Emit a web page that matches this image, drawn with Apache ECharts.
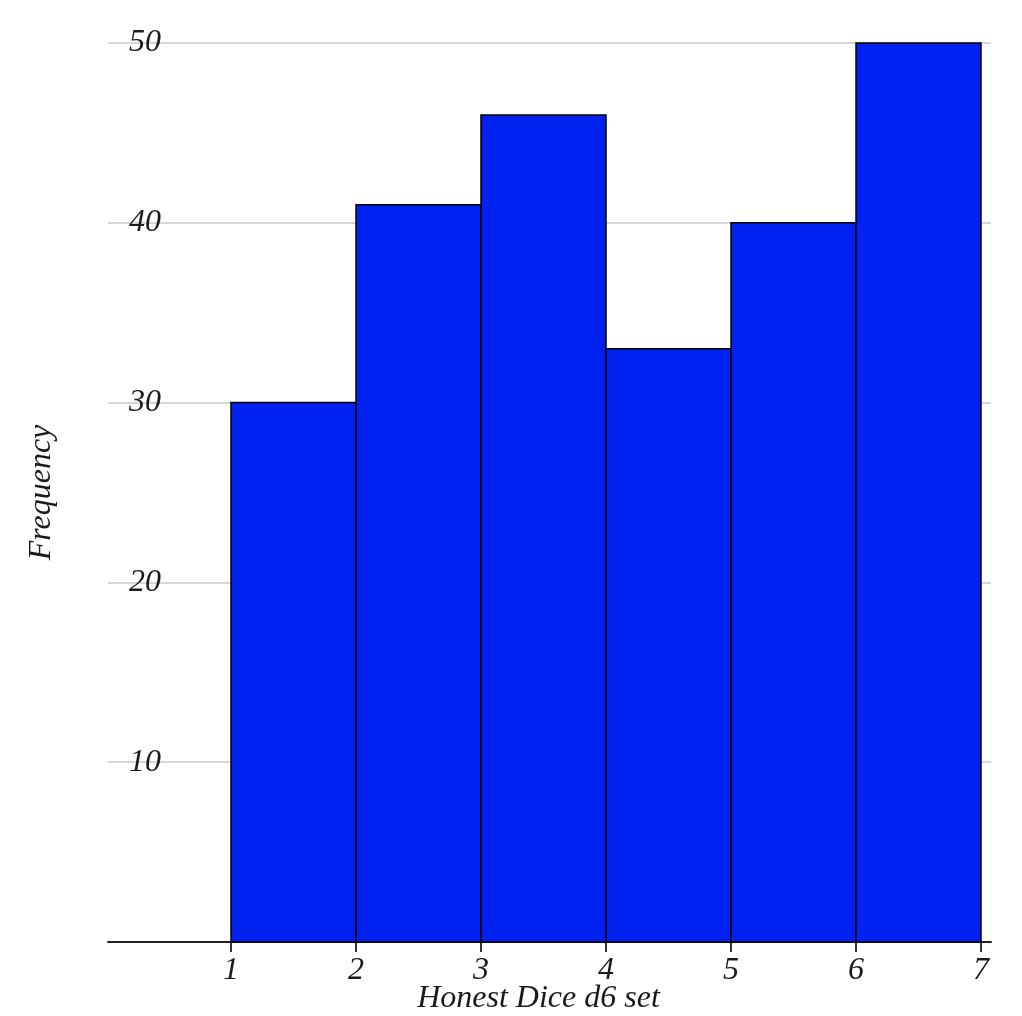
<!DOCTYPE html>
<html>
<head>
<meta charset="utf-8">
<title>Honest Dice d6 set</title>
<script src="https://cdn.jsdelivr.net/npm/echarts@6/dist/echarts.min.js"></script>
<style>
  html, body { margin: 0; padding: 0; background: #fff; }
  #chart { width: 1022px; height: 1016px; }
</style>
</head>
<body>
<div id="chart"></div>
<script>
// histogram bins (left edge, right edge) and counts
const binStart = [1, 2, 3, 4, 5, 6];
const binEnd = [2, 3, 4, 5, 6, 7];
const frequency = [30, 41, 46, 33, 40, 50];
const xTicks = [1, 2, 3, 4, 5, 6, 7];
const yTicks = [10, 20, 30, 40, 50];

const fontFamily = "'Liberation Serif', 'DejaVu Serif', serif";

window.onload = function () {
  const chart = echarts.init(document.getElementById('chart'));

  const data = binStart.map((s, i) => [s, binEnd[i], frequency[i]]);

  const option = {
    animation: false,
    grid: { left: 108, right: 31, top: 43, bottom: 74, outerBoundsMode: 'none', containLabel: false },
    xAxis: {
      type: 'value',
      min: 0.016,
      max: 7.08,
      name: 'Honest Dice d6 set',
      nameLocation: 'middle',
      nameGap: 41,
      nameMoveOverlap: false,
      nameTextStyle: {
        fontFamily, fontStyle: 'italic', fontSize: 32, color: '#1a1a1a',
        padding: [0, 22, 0, 0],
      },
      axisLine: { show: true, lineStyle: { color: '#222', width: 2 } },
      axisTick: { show: true, customValues: xTicks, length: 10, lineStyle: { color: '#333', width: 2 } },
      axisLabel: {
        customValues: xTicks,
        margin: 13,
        fontFamily, fontStyle: 'italic', fontSize: 32, color: '#1a1a1a',
      },
      splitLine: { show: false },
    },
    yAxis: {
      type: 'value',
      min: 0,
      max: 50,
      interval: 10,
      name: 'Frequency',
      nameLocation: 'middle',
      nameGap: 50,
      nameMoveOverlap: false,
      nameTextStyle: { fontFamily, fontStyle: 'italic', fontSize: 32, color: '#1a1a1a' },
      axisLine: { show: false },
      axisTick: { show: false },
      axisLabel: {
        inside: true,
        margin: 21,
        showMinLabel: false,
        formatter: v => (yTicks.indexOf(v) >= 0 ? String(v) : ''),
        fontFamily, fontStyle: 'italic', fontSize: 32, color: '#1a1a1a',
      },
      splitLine: { show: true, lineStyle: { color: '#c8c8c8', width: 1.5 } },
    },
    series: [{
      type: 'custom',
      data,
      encode: { x: [0, 1], y: 2 },
      renderItem: (params, api) => {
        const p0 = api.coord([api.value(0), 0]);
        const p1 = api.coord([api.value(1), api.value(2)]);
        return {
          type: 'rect',
          shape: { x: p0[0], y: p1[1], width: p1[0] - p0[0], height: p0[1] - p1[1] },
          style: { fill: '#0022f0', stroke: '#000', lineWidth: 1.5 },
        };
      },
      z: 5,
    }],
  };

  chart.setOption(option);
};
</script>
</body>
</html>
